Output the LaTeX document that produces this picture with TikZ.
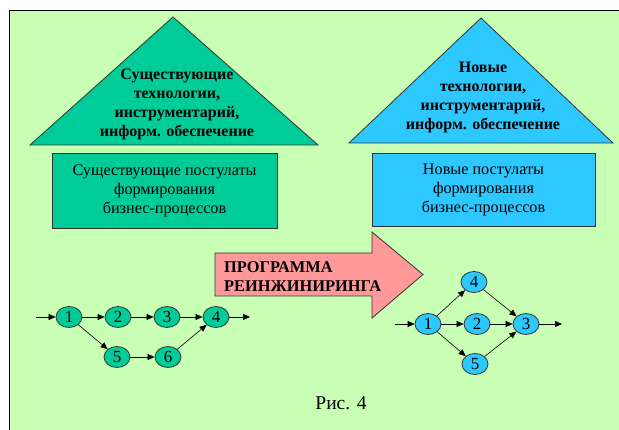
\documentclass[tikz,border=0pt]{standalone}
\usepackage{fontspec}
\setmainfont{Liberation Serif}
\usetikzlibrary{shapes.geometric,arrows.meta}
\definecolor{bggreen}{RGB}{200,255,180}
\definecolor{teal}{RGB}{0,204,153}
\definecolor{skyb}{RGB}{45,200,255}
\definecolor{pinkarrow}{RGB}{255,153,153}
\tikzset{
  outl/.style={draw=black!80, line width=0.8pt},
  boldtxt/.style={align=center, font=\fontsize{16}{19}\selectfont\bfseries, inner sep=0pt},
  regtxt/.style={align=center, font=\fontsize{16.2}{19}\selectfont, inner sep=0pt},
  evt/.style={ellipse, outl, minimum width=26pt, minimum height=21pt, inner sep=0pt, font=\fontsize{17}{17}\selectfont},
  gevt/.style={evt, fill=teal},
  bevt/.style={evt, fill=skyb},
  arr/.style={-{Triangle[length=7pt,width=6pt]}, line width=0.6pt, black},
}
\begin{document}
\begin{tikzpicture}[x=1pt,y=-1pt]
\useasboundingbox (0,0) rectangle (619,430);
% panel
\fill[bggreen] (9,10) rectangle (619,430);
\draw[line width=0.8pt] (9,430) -- (9,10) -- (619,10);
% left triangle and box
\filldraw[outl, fill=teal] (30,145) -- (173,17) -- (318,145) -- cycle;
\node[boldtxt] (lt) at (177,104) {Существующие\\технологии,\\инструментарий,\\информ. обеспечение};
\node[outl, fill=teal, minimum width=225pt, minimum height=75pt, inner sep=0pt] (lb) at (164.5,190.5) {};
\node[regtxt] (lbt) at (lb) {Существующие постулаты\\формирования\\бизнес-процессов};
% right triangle and box
\filldraw[outl, fill=skyb] (349,143) -- (481,18) -- (613,143) -- cycle;
\node[boldtxt] (rt) at (483,97.5) {Новые\\технологии,\\инструментарий,\\информ. обеспечение};
\node[outl, fill=skyb, minimum width=223pt, minimum height=73pt, inner sep=0pt] (rb) at (483.5,189.5) {};
\node[regtxt] (rbt) at (rb) {Новые постулаты\\формирования\\бизнес-процессов};
% program arrow
\filldraw[outl, fill=pinkarrow] (215,253) -- (372,253) -- (372,232) -- (423,274.5) -- (372,318) -- (372,296) -- (215,296) -- cycle;
\node[boldtxt, font=\fontsize{16.4}{19}\selectfont\bfseries, align=left, anchor=west] (prog) at (224,277) {ПРОГРАММА\\РЕИНЖИНИРИНГА};
% left network
\node[gevt] (L1) at (69,317) {1};
\node[gevt] (L2) at (118,317) {2};
\node[gevt] (L3) at (167,317) {3};
\node[gevt] (L4) at (216,317) {4};
\node[gevt] (L5) at (117,357) {5};
\node[gevt] (L6) at (168,357) {6};
\coordinate (Lin) at (36,317);
\coordinate (Lout) at (250,317);
\draw[arr] (Lin) -- (L1);
\draw[arr] (L1) -- (L2);
\draw[arr] (L2) -- (L3);
\draw[arr] (L3) -- (L4);
\draw[arr] (L4) -- (Lout);
\draw[arr] (L1) -- (L5);
\draw[arr] (L5) -- (L6);
\draw[arr] (L6) -- (L4);
% right network
\node[bevt] (R1) at (428,324) {1};
\node[bevt] (R2) at (477,324) {2};
\node[bevt] (R3) at (526,324) {3};
\node[bevt] (R4) at (474,282) {4};
\node[bevt] (R5) at (475,364) {5};
\coordinate (Rin) at (395,324);
\coordinate (Rout) at (562,324);
\draw[arr] (Rin) -- (R1);
\draw[arr] (R1) -- (R2);
\draw[arr] (R2) -- (R3);
\draw[arr] (R3) -- (Rout);
\draw[arr] (R1) -- (R4);
\draw[arr] (R1) -- (R5);
\draw[arr] (R4) -- (R3);
\draw[arr] (R5) -- (R3);
% caption
\node[font=\fontsize{19.5}{19.5}\selectfont, inner sep=0pt] (cap) at (341,403) {Рис. 4};
\end{tikzpicture}
\end{document}
